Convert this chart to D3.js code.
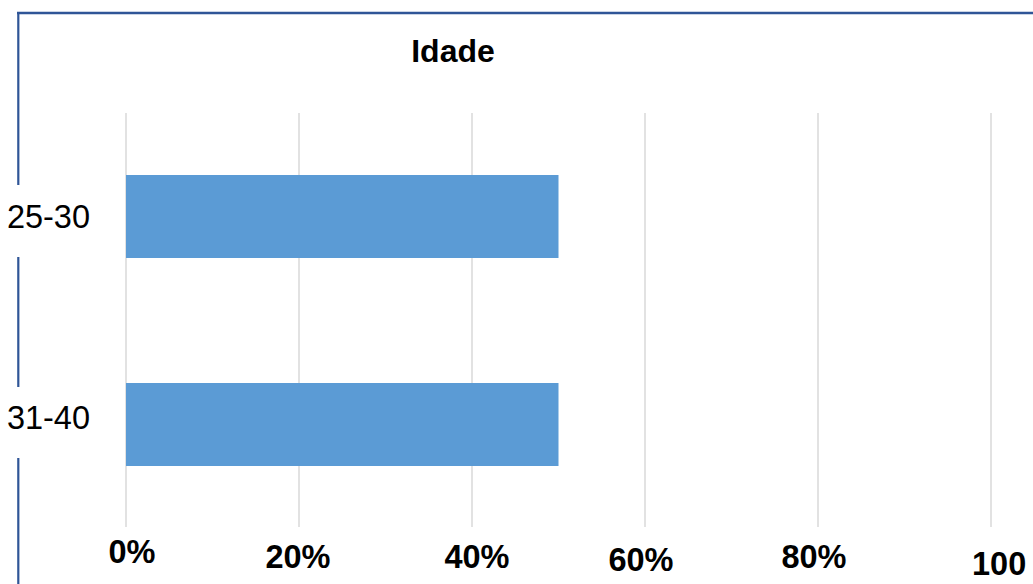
<!DOCTYPE html>
<html><head><meta charset="utf-8">
<script src="https://cdn.jsdelivr.net/npm/d3@7"></script>
<style>body{margin:0;background:#fff;overflow:hidden}svg{display:block}</style>
</head><body>
<svg id="c" width="1033" height="584"></svg>
<script>
const title = "Idade";
const categories = ["25-30", "31-40"];
const values = [0.50, 0.50];
const tickValues = [0, 0.2, 0.4, 0.6, 0.8, 1.0];
const tickLabels = ["0%", "20%", "40%", "60%", "80%", "100"];

const svg = d3.select("#c");
const font = "'Liberation Sans', Arial, sans-serif";
const x = d3.scaleLinear().domain([0, 1]).range([126, 991]);

// frame
const frameColor = "#2f5597";
svg.append("line").attr("x1", 17).attr("x2", 1033).attr("y1", 13).attr("y2", 13)
  .attr("stroke", frameColor).attr("stroke-width", 2.5);
[[12, 185], [257, 387], [458, 584]].forEach(([a, b]) => {
  svg.append("line").attr("x1", 18.3).attr("x2", 18.3).attr("y1", a).attr("y2", b)
    .attr("stroke", frameColor).attr("stroke-width", 2.2);
});

// gridlines
svg.append("g").selectAll("line").data(tickValues).join("line")
  .attr("x1", d => x(d)).attr("x2", d => x(d))
  .attr("y1", 113).attr("y2", 527)
  .attr("stroke", "#d9d9d9").attr("stroke-width", 1.5);

// bars
const barY = [175, 383];
const barH = 83;
svg.append("g").selectAll("rect").data(categories).join("rect")
  .attr("x", x(0))
  .attr("y", (d, i) => barY[i])
  .attr("width", (d, i) => x(values[i]) - x(0))
  .attr("height", barH)
  .attr("fill", "#5b9bd5");

// category labels
const labelY = [228, 429];
svg.append("g").selectAll("text").data(categories).join("text")
  .attr("x", 90).attr("y", (d, i) => labelY[i])
  .attr("text-anchor", "end")
  .attr("font-family", font).attr("font-size", 32.5).attr("fill", "#000")
  .text(d => d);

// tick labels (bold, staggered baselines)
const tickBase = [563, 568, 568, 571, 568, 575];
const tickDx = [6, -1, 5, -4, -4, 0];
svg.append("g").selectAll("text").data(tickValues).join("text")
  .attr("x", (d, i) => i === tickValues.length - 1 ? x(d) - 19 : x(d) + tickDx[i])
  .attr("y", (d, i) => tickBase[i])
  .attr("text-anchor", (d, i) => i === tickValues.length - 1 ? "start" : "middle")
  .attr("font-family", font).attr("font-size", 32.5).attr("font-weight", "bold").attr("fill", "#000")
  .text((d, i) => tickLabels[i]);

// title
svg.append("text").attr("x", 453).attr("y", 62).attr("text-anchor", "middle")
  .attr("font-family", font).attr("font-size", 32).attr("font-weight", "bold")
  .text(title);
</script>
</body></html>
